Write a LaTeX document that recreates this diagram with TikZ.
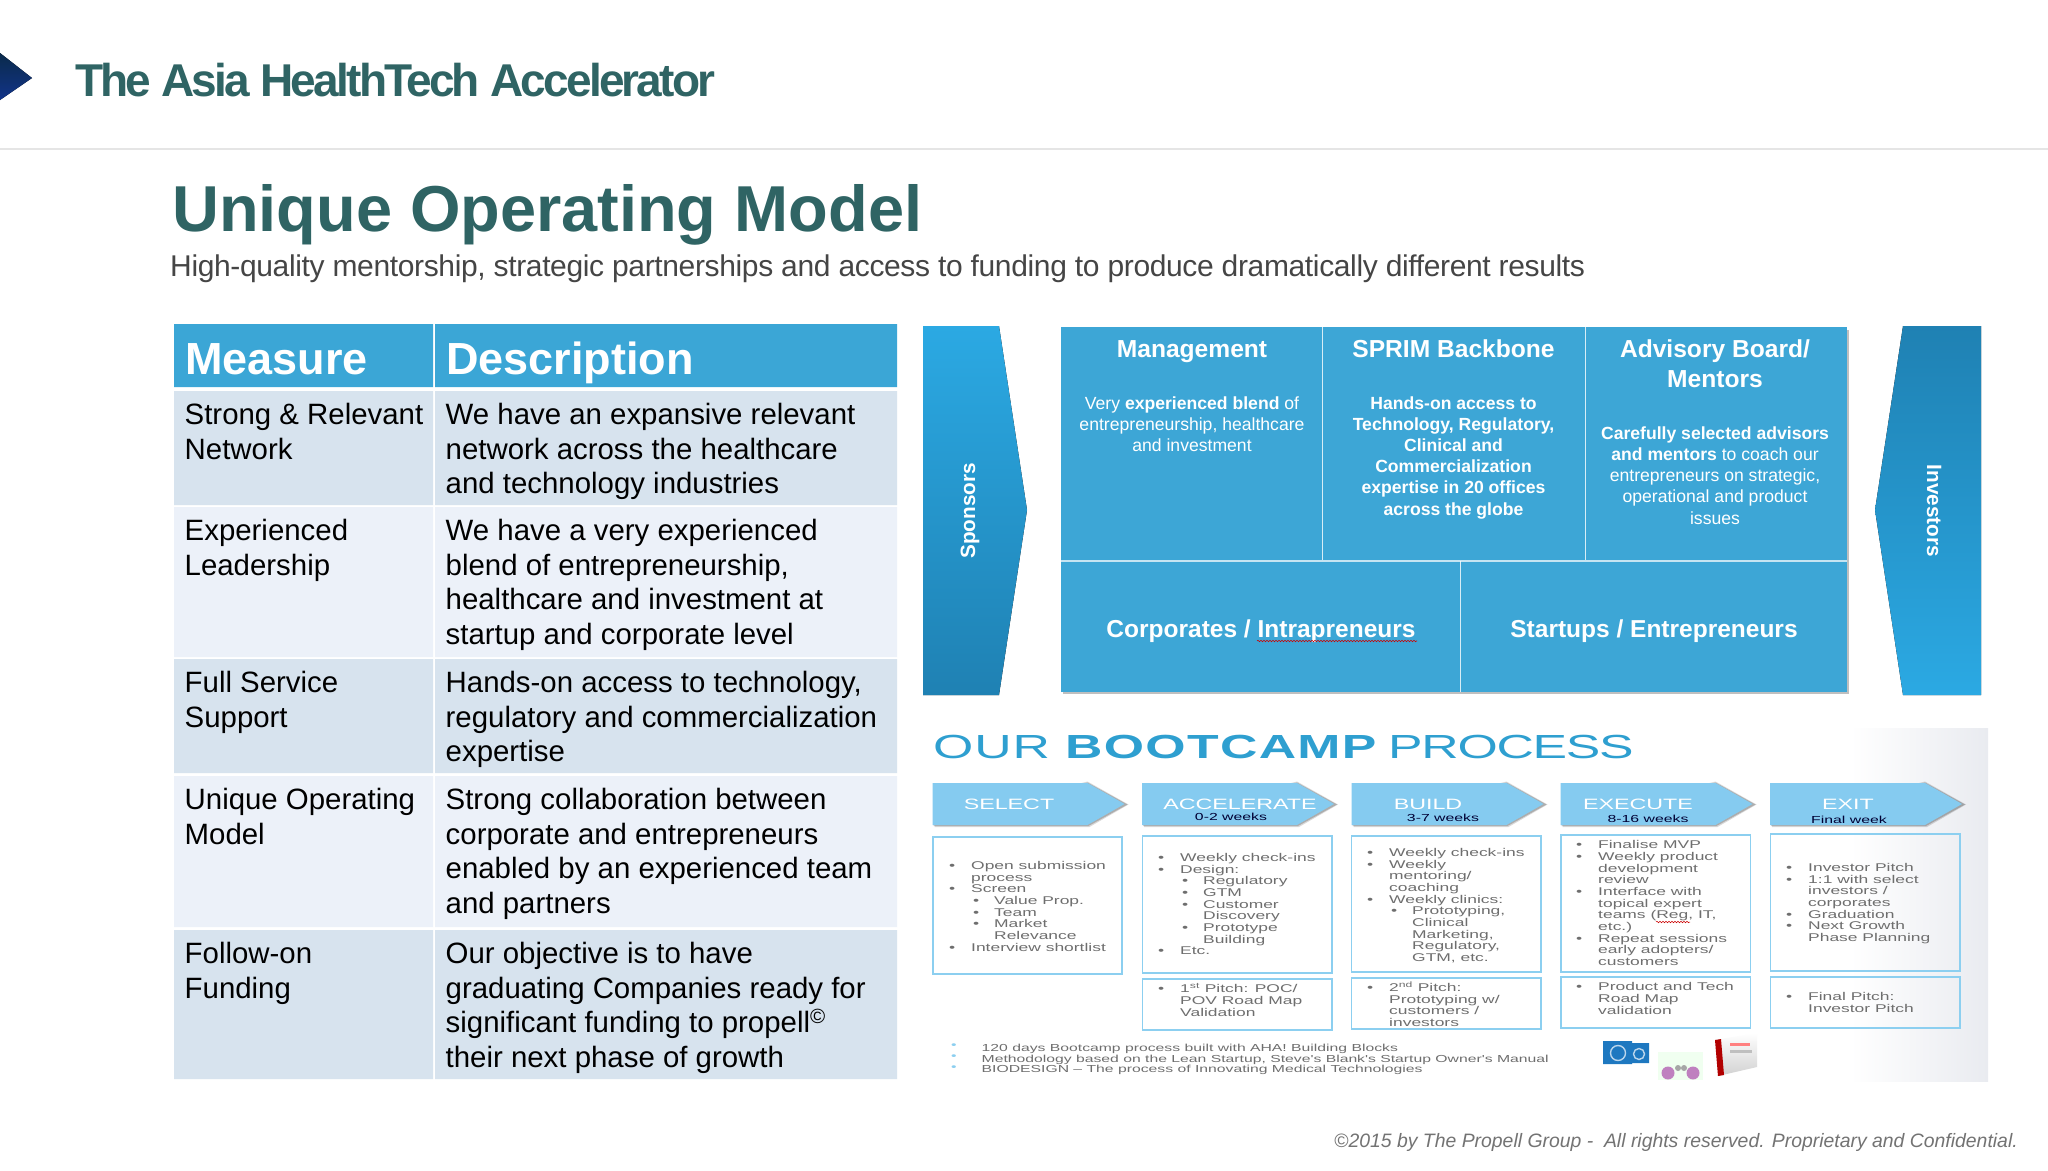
\documentclass[tikz,border=0pt]{standalone}
\usepackage{fontspec}
\setmainfont{Liberation Sans}
\newfontfamily\widefont[FakeStretch=1.55]{Liberation Sans}
\usetikzlibrary{decorations.pathmorphing}
\definecolor{tealhead}{HTML}{2F6464}
\definecolor{subgrey}{HTML}{454545}
\definecolor{tablehead}{HTML}{3BA6D6}
\definecolor{rowdark}{HTML}{D7E3EE}
\definecolor{rowlight}{HTML}{ECF1F9}
\definecolor{gridblue}{HTML}{3DA6D6}
\definecolor{bandlight}{HTML}{2BA9E3}
\definecolor{banddark}{HTML}{1F81B3}
\definecolor{steplight}{HTML}{85CBF0}
\definecolor{boxline}{HTML}{8CCFF0}
\definecolor{stepgrey}{HTML}{6E6E6E}
\definecolor{campblue}{HTML}{2E9FD0}
\definecolor{panelgrey}{HTML}{E9EBF0}
\definecolor{navydark}{HTML}{0A2A4A}
\definecolor{navylight}{HTML}{12348A}
\definecolor{bookblue}{HTML}{1E78C0}
\newcommand{\fsz}[2]{\fontsize{#1}{#2}\selectfont}
\newcommand{\ia}{\makebox[22pt][l]{\textbullet}}
\newcommand{\ib}{\hspace*{24pt}\makebox[21pt][l]{\textbullet}}
\newcommand{\ic}{\hspace*{22pt}}
\newcommand{\id}{\hspace*{45pt}}
\tikzset{
  rowtext/.style={anchor=north west, inner sep=0pt, align=left, font=\fsz{29.4}{34.6}},
  gridhead/.style={white, font=\bfseries\fsz{24.6}{30}, align=center, inner sep=0pt},
  gridbody/.style={white, font=\fsz{17.6}{21.2}, align=center, inner sep=0pt},
  gridlabel/.style={white, font=\bfseries\fsz{24.5}{30}, inner sep=0pt},
  bandlabel/.style={white, font=\bfseries\fsz{20.7}{24}, inner sep=0pt},
  steplabel/.style={white, font=\widefont\fsz{15}{18}, inner sep=0pt},
  weeklabel/.style={black!80!blue, font=\widefont\fsz{10.2}{12}, inner sep=0pt},
  steptext/.style={anchor=north west, inner sep=0pt, align=left, stepgrey, font=\widefont\fsz{11.25}{11.67}},
  squiggle/.style={red!80!black, line width=.6pt, decorate, decoration={snake, amplitude=.7pt, segment length=3pt}}
}
\begin{document}
\begin{tikzpicture}[x=1pt, y=-1pt]
  \useasboundingbox (0,0) rectangle (2048,1170);
  \fill [white] (0,0) rectangle (2048,1170);
  \fill [top color=navydark, bottom color=navylight] (0,53) -- (32,78) -- (0,100) -- cycle;
  \fill [black!10] (0,148) rectangle (2048,150);
  \node (brand) [anchor=base west, inner sep=0pt, tealhead, font=\bfseries\fsz{46}{50}] at (75,96) {\addfontfeature{LetterSpace=-6}The Asia HealthTech Accelerator};
  \node (title) [anchor=base west, inner sep=0pt, tealhead, font=\bfseries\fsz{64.9}{70}] at (172,231) {Unique Operating Model};
  \node (subtitle) [anchor=base west, inner sep=0pt, subgrey, font=\fsz{30}{34}] at (170,276) {\addfontfeature{LetterSpace=-1.2}High-quality mentorship, strategic partnerships and access to funding to produce dramatically different results};

  \fill [tablehead] (174,324) rectangle (433,387) (435,324) rectangle (897,387);
  \node (measurehead) [anchor=base west, inner sep=0pt, white, font=\bfseries\fsz{45}{50}] at (185,374) {Measure};
  \node (descrhead) [anchor=base west, inner sep=0pt, white, font=\bfseries\fsz{45}{50}] at (446,374) {Description};
  \foreach \ytop/\ybot/\shade/\measure/\descr [count=\i] in {
    391/505/rowdark/{Strong \& Relevant\\Network}/{We have an expansive relevant\\network across the healthcare\\and technology industries},
    507/657/rowlight/{Experienced\\Leadership}/{We have a very experienced\\blend of entrepreneurship,\\healthcare and investment at\\startup and corporate level},
    659/773/rowdark/{Full Service\\Support}/{Hands-on access to technology,\\regulatory and commercialization\\expertise},
    776/927/rowlight/{Unique Operating\\Model}/{Strong collaboration between\\corporate and entrepreneurs\\enabled by an experienced team\\and partners},
    930/1079/rowdark/{Follow-on\\Funding}/{Our objective is to have\\graduating Companies ready for\\significant funding to propell\textsuperscript{©}\\their next phase of growth}}
  {
    \fill [\shade] (174,\ytop) rectangle (433,\ybot) (435,\ytop) rectangle (897,\ybot);
    \node (measure\i) [rowtext] at (184.5,\ytop+12) {\measure};
    \node (descr\i) [rowtext] at (445.5,\ytop+12) {\descr};
  }

  \fill [top color=bandlight, bottom color=banddark] (923,326) -- (999,326) -- (1027,510) -- (999,695) -- (923,695) -- cycle;
  \fill [top color=banddark, bottom color=bandlight] (1981,326) -- (1903,326) -- (1875,510) -- (1903,695) -- (1981,695) -- cycle;
  \node (sponsors) [bandlabel, rotate=90] at (970,511) {Sponsors};
  \node (investors) [bandlabel, rotate=-90] at (1934,511) {Investors};

  \fill [black!25] (1063,330) rectangle (1849,694);
  \fill [gridblue] (1061,327) rectangle (1847,692);
  \draw [white, opacity=.8, line width=1pt] (1322.5,327) -- (1322.5,560) (1585,327) -- (1585,560) (1460,561) -- (1460,692);
  \draw [white, opacity=.7, line width=2pt] (1061,561) -- (1847,561);
  \node (mgmthead) [gridhead] at (1192,351.5) {Management};
  \node (sprimhead) [gridhead] at (1453.5,349) {SPRIM Backbone};
  \node (advisoryhead) [gridhead] at (1715,364) {Advisory Board/\\Mentors};
  \node (mgmtbody) [gridbody] at (1192,424.5) {Very \textbf{experienced blend} of\\entrepreneurship, healthcare\\and investment};
  \node (sprimbody) [gridbody, font=\bfseries\fsz{17.6}{21.2}] at (1453.5,457.5) {Hands-on access to\\Technology, Regulatory,\\Clinical and\\Commercialization\\expertise in 20 offices\\across the globe};
  \node (advisorybody) [gridbody] at (1715,475.5) {\textbf{Carefully selected advisors}\\\textbf{and mentors} to coach our\\entrepreneurs on strategic,\\operational and product\\issues};
  \node (corporates) [gridlabel] at (1261,631) {Corporates / Intrapreneurs};
  \node (startups) [gridlabel] at (1654,631) {Startups / Entrepreneurs};
  \draw [squiggle] (1257,641) -- (1417,641);

  \fill [left color=white, right color=panelgrey] (1850,728) rectangle (1988,1081);
  \node (camptitle) [anchor=base west, inner sep=0pt, campblue, font=\widefont\fsz{33.4}{36}] at (933,758) {{\addfontfeature{LetterSpace=2.5}OUR} \textbf{\addfontfeature{LetterSpace=4}BOOTCAMP} \hspace*{-4pt}{\addfontfeature{LetterSpace=-3.8}PROCESS}};
  \foreach \x/\name/\cx in {932.5/SELECT/1009, 1142/ACCELERATE/1240, 1351.5/BUILD/1428, 1560.5/EXECUTE/1638, 1770/EXIT/1848}
  {
    \fill [black, opacity=.15] (\x+155,781.5) -- (\x+196,804.5) -- (\x+157,827) -- (\x+2,827) -- (\x+2,820) -- cycle;
    \fill [black, opacity=.2] (\x+155,782.5) -- (\x+195,804.5) -- (\x+156,826) -- (\x+1,826) -- (\x+1,820) -- cycle;
    \fill [steplight] (\x,783) -- (\x+155,783) -- (\x+192,804) -- (\x+155,825) -- (\x,825) -- cycle;
    \node (step\name) [steplabel] at (\cx,804) {\name};
  }
  \node (weeksaccel) [weeklabel] at (1231,817) {0-2 weeks};
  \node (weeksbuild) [weeklabel] at (1443,818) {3-7 weeks};
  \node (weeksexec) [weeklabel] at (1648,818.5) {8-16 weeks};
  \node (weeksexit) [weeklabel] at (1849,819.5) {Final week};

  \foreach \xa/\ya/\xb/\yb in {933/837/1122/974, 1142.5/836/1332/973, 1351.5/836/1541/972, 1561/835/1750.5/972, 1770.5/834/1960/971, 1142.5/979/1332/1030, 1351.5/978/1541/1029, 1561/977/1750.5/1028, 1770.5/977/1960/1028}
    \draw [draw=boxline, line width=1.2pt] (\xa,\ya) rectangle (\xb,\yb);

  \foreach \x/\y/\body [count=\i] in {
    949/861/{\ia Open submission\\\ic process\\\ia Screen\\\ib Value Prop.\\\ib Team\\\ib Market\\\id Relevance\\\ia Interview shortlist},
    1158/853/{\ia Weekly check-ins\\\ia Design:\\\ib Regulatory\\\ib GTM\\\ib Customer\\\id Discovery\\\ib Prototype\\\id Building\\\ia Etc.},
    1367/848/{\ia Weekly check-ins\\\ia Weekly\\\ic mentoring/\\\ic coaching\\\ia Weekly clinics:\\\ib Prototyping,\\\id Clinical\\\id Marketing,\\\id Regulatory,\\\id GTM, etc.},
    1576/840.5/{\ia Finalise MVP\\\ia Weekly product\\\ic development\\\ic review\\\ia Interface with\\\ic topical expert\\\ic teams (Reg, IT,\\\ic etc.)\\\ia Repeat sessions\\\ic early adopters/\\\ic customers},
    1786/863/{\ia Investor Pitch\\\ia 1:1 with select\\\ic investors /\\\ic corporates\\\ia Graduation\\\ia Next Growth\\\ic Phase Planning},
    1158/983.5/{\ia 1\textsuperscript{st} Pitch: POC/\\\ic POV Road Map\\\ic Validation},
    1367/981.5/{\ia 2\textsuperscript{nd} Pitch:\\\ic Prototyping w/\\\ic customers /\\\ic investors},
    1576/982.5/{\ia Product and Tech\\\ic Road Map\\\ic validation},
    1786/992/{\ia Final Pitch:\\\ic Investor Pitch}}
    \node (steptext\i) [steptext] at (\x,\y) {\body};
  \draw [squiggle, line width=.5pt] (1656,922) -- (1690,922);

  \node (footbullets) [anchor=north west, inner sep=0pt, align=left, boxline, font=\widefont\fsz{10.15}{10.6}] at (951,1044) {\textbullet\\\textbullet\\\textbullet};
  \node (footnotes) [anchor=north west, inner sep=0pt, align=left, stepgrey, font=\widefont\fsz{10.15}{10.6}] at (981.5,1044) {120 days Bootcamp process built with AHA! Building Blocks\\Methodology based on the Lean Startup, Steve's Blank's Startup Owner's Manual\\BIODESIGN – The process of Innovating Medical Technologies};

  \fill [bookblue] (1603,1041) rectangle (1632,1064) (1632,1043) rectangle (1649,1063);
  \draw [white!70!bookblue, line width=1.4pt] (1618,1053) circle (7.5pt) (1639,1054) circle (5.5pt);
  \fill [green!6] (1658,1052) rectangle (1703,1080);
  \fill [black!35] (1678,1068) circle (3pt) (1684,1068) circle (3pt);
  \fill [violet!50] (1668,1073) circle (6.5pt) (1693,1073) circle (6.5pt);
  \shade [top color=white, bottom color=black!18] (1715,1040) -- (1757,1033) -- (1757,1067) -- (1718,1076) -- cycle;
  \fill [red!70!black] (1715,1040) -- (1721,1039) -- (1724,1075) -- (1718,1076) -- cycle;
  \fill [red!50] (1730,1043) rectangle (1750,1046);
  \fill [black!25] (1730,1050) rectangle (1752,1053);

  \node (copyright) [anchor=base east, inner sep=0pt, black!55, font=\itshape\fsz{19.4}{24}] at (2018,1147) {©2015 by The Propell Group -\ \ All rights reserved. Proprietary and Confidential.};
\end{tikzpicture}
\end{document}
